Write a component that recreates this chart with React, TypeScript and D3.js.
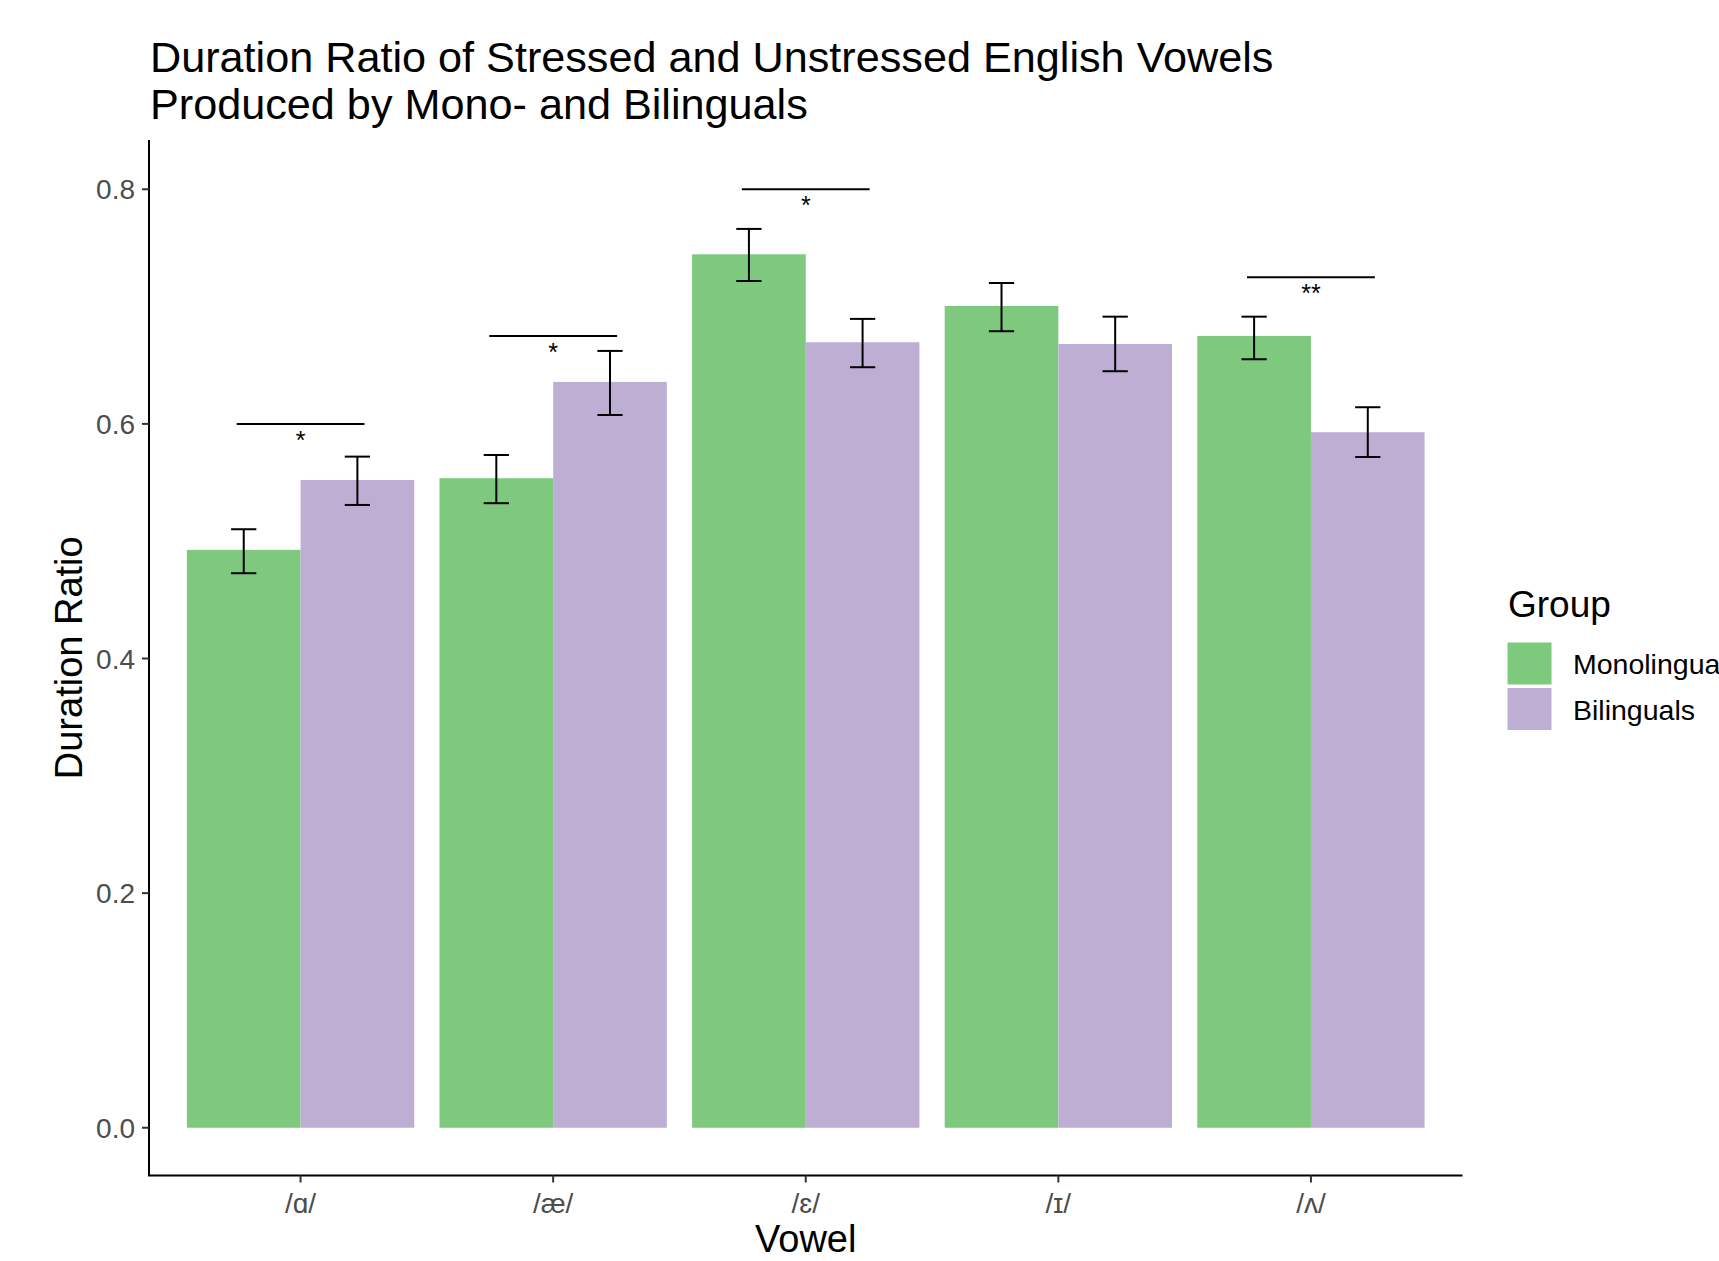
import React from "react";
import * as d3 from "d3";

// Vowel categories and group means / error bounds
const vowels = ["/ɑ/", "/æ/", "/ɛ/", "/ɪ/", "/ʌ/"];
const groups = ["Monolinguals", "Bilinguals"];
const monoMean = [0.4926, 0.5537, 0.7446, 0.7005, 0.675];
const monoLow = [0.4727, 0.5324, 0.7218, 0.679, 0.6551];
const monoHigh = [0.5102, 0.5735, 0.7662, 0.7201, 0.6914];
const biliMean = [0.5522, 0.6358, 0.6696, 0.6681, 0.5929];
const biliLow = [0.5309, 0.6076, 0.6483, 0.6449, 0.5718];
const biliHigh = [0.5721, 0.6622, 0.6895, 0.6914, 0.6142];
// Significance brackets: vowel index, bracket height, label
const sigVowel = [0, 1, 2, 4];
const sigY = [0.6, 0.675, 0.8, 0.725];
const sigLabel = ["*", "*", "*", "**"];
const yTicks = [0, 0.2, 0.4, 0.6, 0.8];

const colors = ["#7FC97F", "#BEAED4"];
const FONT = "'Liberation Sans', Arial, sans-serif";

export default function App() {
  const W = 1719;
  const H = 1261;
  const left = 149;
  const right = 1462.5;
  const top = 140;
  const bottom = 1175.5;

  const x = d3.scaleLinear().domain([0.4, vowels.length + 0.6]).range([left, right]);
  const y = d3.scaleLinear().domain([-0.0407, 0.842]).range([bottom, top]);
  const unit = x(1) - x(0);

  const series = [
    { mean: monoMean, low: monoLow, high: monoHigh, offset: -0.225 },
    { mean: biliMean, low: biliLow, high: biliHigh, offset: 0.225 },
  ];
  const barW = 0.45;
  const capHalf = 0.05;

  return (
    <svg width={W} height={H} style={{ position: "absolute", left: 0, top: 0, background: "#fff" }} fontFamily={FONT}>
      <rect x={0} y={0} width={W} height={H} fill="#fff" />
      {/* title */}
      <text x={150} y={72} fontSize={43.2} fill="#000">Duration Ratio of Stressed and Unstressed English Vowels</text>
      <text x={150} y={119} fontSize={43.2} fill="#000">Produced by Mono- and Bilinguals</text>

      {/* bars */}
      {series.map((s, si) =>
        vowels.map((v, i) => {
          const cx = x(i + 1) + s.offset * unit;
          return (
            <rect
              key={`b${si}-${i}`}
              x={cx - (barW / 2) * unit}
              y={y(s.mean[i])}
              width={barW * unit}
              height={y(0) - y(s.mean[i])}
              fill={colors[si]}
            />
          );
        })
      )}

      {/* error bars */}
      {series.map((s, si) =>
        vowels.map((v, i) => {
          const cx = x(i + 1) + s.offset * unit;
          const yl = y(s.low[i]);
          const yh = y(s.high[i]);
          return (
            <g key={`e${si}-${i}`} stroke="#000" strokeWidth={2}>
              <line x1={cx} x2={cx} y1={yl} y2={yh} />
              <line x1={cx - capHalf * unit} x2={cx + capHalf * unit} y1={yl} y2={yl} />
              <line x1={cx - capHalf * unit} x2={cx + capHalf * unit} y1={yh} y2={yh} />
            </g>
          );
        })
      )}

      {/* significance brackets */}
      {sigVowel.map((vi, k) => {
        const cx = x(vi + 1);
        const yy = y(sigY[k]);
        return (
          <g key={`s${k}`}>
            <line x1={cx - 0.253 * unit} x2={cx + 0.253 * unit} y1={yy} y2={yy} stroke="#000" strokeWidth={2} />
            <text x={cx} y={yy + 25} fontSize={25} textAnchor="middle" fill="#000">{sigLabel[k]}</text>
          </g>
        );
      })}

      {/* axes */}
      <line x1={left} x2={left} y1={top} y2={bottom} stroke="#000" strokeWidth={2} />
      <line x1={left - 1} x2={right} y1={bottom} y2={bottom} stroke="#000" strokeWidth={2} />
      {yTicks.map((t) => (
        <g key={`yt${t}`}>
          <line x1={left - 7} x2={left} y1={y(t)} y2={y(t)} stroke="#333" strokeWidth={2} />
          <text x={left - 14} y={y(t)} dy="0.36em" fontSize={28} textAnchor="end" fill="#4D4D4D">
            {d3.format(".1f")(t)}
          </text>
        </g>
      ))}
      {vowels.map((v, i) => (
        <g key={`xt${i}`}>
          <line x1={x(i + 1)} x2={x(i + 1)} y1={bottom} y2={bottom + 7} stroke="#333" strokeWidth={2} />
          <text x={x(i + 1)} y={1213} fontSize={28} textAnchor="middle" fill="#4D4D4D">{v}</text>
        </g>
      ))}
      <text x={(left + right) / 2} y={1252} fontSize={38} textAnchor="middle" fill="#000">Vowel</text>
      <text
        transform={`translate(82, ${(top + bottom) / 2}) rotate(-90)`}
        fontSize={38}
        textAnchor="middle"
        fill="#000"
      >
        Duration Ratio
      </text>

      {/* legend */}
      <text x={1508} y={617} fontSize={37} fill="#000">Group</text>
      {groups.map((g, gi) => (
        <g key={`lg${gi}`}>
          <rect x={1507.5} y={642.5 + gi * 45.5} width={44} height={42} fill={colors[gi]} />
          <text x={1573} y={674 + gi * 46} fontSize={28.5} fill="#000">{g}</text>
        </g>
      ))}
    </svg>
  );
}
